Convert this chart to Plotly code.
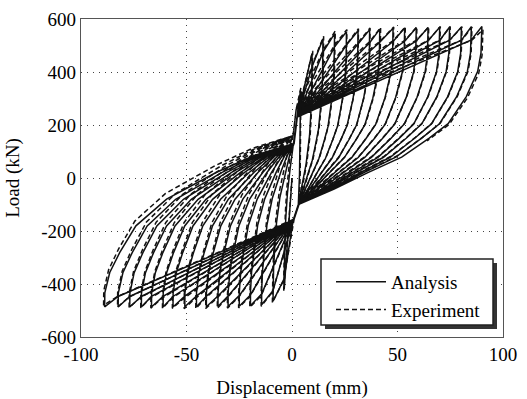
import plotly.graph_objects as go

# ---------------- data ----------------
# Analysis: peak displacement (mm) / load (kN) of each cycle
a_pos_disp = [4.0, 9.5, 14.7, 20.2, 25.8, 31.3, 36.8, 41.6, 47.9, 53.4, 58.9, 64.5, 70.0, 74.7, 80.3, 85.0, 90.0]
a_pos_load = [330, 470, 525, 545, 552, 556, 560, 562, 565, 566, 567, 568, 569, 570, 570, 571, 572]
a_neg_disp = [-3.7, -9.0, -14.4, -19.7, -25.0, -30.3, -35.1, -40.6, -45.3, -50.8, -56.4, -61.1, -66.6, -71.4, -76.9, -82.4, -88.8]
a_neg_load = [-420, -465, -478, -482, -484, -485, -485, -486, -486, -486, -487, -487, -487, -487, -487, -487, -486]

# Experiment: peak displacement (mm) / load (kN) of each cycle
e_pos_disp = [4.2, 9.8, 15.0, 20.5, 26.0, 31.5, 37.0, 42.0, 48.2, 53.7, 59.2, 64.8, 70.3, 75.0, 80.6, 85.3, 90.5]
e_pos_load = [340, 480, 535, 555, 560, 563, 566, 568, 570, 570, 571, 571, 572, 572, 571, 570, 560]
e_neg_disp = [-3.9, -9.3, -14.6, -20.0, -25.3, -30.6, -35.4, -40.9, -45.6, -51.1, -56.7, -61.4, -66.9, -71.7, -77.2, -82.7, -89.3]
e_neg_load = [-425, -470, -484, -488, -490, -491, -492, -492, -493, -493, -492, -492, -491, -490, -489, -487, -480]

# pinching points (where the unloading branches converge)
a_pinch_left = (1.0, 130.0)
a_pinch_right = (3.0, -100.0)
e_pinch_left = (0.5, 160.0)
e_pinch_right = (3.5, -95.0)
e_last_unload_end = (64.0, 140.0)

# unloading branch shape read from the outermost loops (fraction of the excursion)
pos_unload_fx = [1.0, 0.995, 0.977, 0.915, 0.816, 0.713, 0.563, 0.379, 0.195, 0.0]
pos_unload_fy = [1.0, 0.851, 0.748, 0.606, 0.454, 0.373, 0.266, 0.179, 0.087, 0.0]
neg_unload_fx = [1.0, 0.999, 0.973, 0.920, 0.835, 0.673, 0.409, 0.217, 0.0]
neg_unload_fy = [1.0, 0.914, 0.790, 0.667, 0.504, 0.341, 0.176, 0.076, 0.0]

x_ticks = [-100, -50, 0, 50, 100]
y_ticks = [-600, -400, -200, 0, 200, 400, 600]


def build_path(pd, pl, nd, nl, pin_l, pin_r, last_end=None):
    xs, ys = [0.0], [0.0]
    n = len(pd)
    for i in range(n):
        # negative loading
        if i > 0:
            xs += [pin_r[0] - 2.5, nd[i - 1]]
            ys += [pin_r[1] - 60, nl[i - 1] + 40]
        xs.append(nd[i]); ys.append(nl[i])
        # negative unloading to left pinch
        for fx, fy in zip(neg_unload_fx[1:], neg_unload_fy[1:]):
            xs.append(pin_l[0] + (nd[i] - pin_l[0]) * fx)
            ys.append(pin_l[1] + (nl[i] - pin_l[1]) * fy)
        # positive loading
        xs.append(pin_l[0] + 1.5); ys.append(pin_l[1] + 100)
        if i > 0:
            xs.append(pd[i - 1]); ys.append(pl[i - 1] - 50)
        xs.append(pd[i]); ys.append(pl[i])
        # positive unloading to right pinch
        for fx, fy in zip(pos_unload_fx[1:], pos_unload_fy[1:]):
            x = pin_r[0] + (pd[i] - pin_r[0]) * fx
            y = pin_r[1] + (pl[i] - pin_r[1]) * fy
            if last_end is not None and i == n - 1 and x < last_end[0]:
                xs.append(last_end[0]); ys.append(last_end[1])
                break
            xs.append(x); ys.append(y)
    return xs, ys


ax, ay = build_path(a_pos_disp, a_pos_load, a_neg_disp, a_neg_load, a_pinch_left, a_pinch_right)
ex, ey = build_path(e_pos_disp, e_pos_load, e_neg_disp, e_neg_load, e_pinch_left, e_pinch_right, e_last_unload_end)

FONT = 'Times New Roman, Liberation Serif, DejaVu Serif, serif'

fig = go.Figure()
fig.add_trace(go.Scatter(x=ax, y=ay, mode='lines', name='Analysis',
                         line=dict(color='#111111', width=1.5)))
fig.add_trace(go.Scatter(x=ex, y=ey, mode='lines', name='Experiment',
                         line=dict(color='#111111', width=1.5, dash='5px,3px')))

PX0, PW, PY1, PH = 81, 422, 337, 318

def px(v):
    return (v - PX0) / PW

def py(v):
    return (PY1 - v) / PH

# legend drop shadow and box
fig.add_shape(type='rect', xref='paper', yref='paper',
              x0=px(325), x1=px(497), y0=py(329), y1=py(263),
              fillcolor='#333333', line=dict(width=0), layer='above')
fig.add_shape(type='rect', xref='paper', yref='paper',
              x0=px(321), x1=px(493), y0=py(325), y1=py(259),
              fillcolor='white', line=dict(color='#222222', width=1.5), layer='above')

axis_common = dict(showgrid=True, gridcolor='#444444', gridwidth=1, griddash='1px,5px',
                   showline=True, mirror=True, linecolor='#555555', linewidth=1.2,
                   zeroline=False, ticks='', tickfont=dict(size=19, family=FONT),
                   automargin=False)

fig.update_layout(
    width=527, height=399,
    margin=dict(l=81, r=24, t=19, b=62),
    paper_bgcolor='white', plot_bgcolor='white',
    font=dict(family=FONT, size=19, color='black'),
    xaxis=dict(range=[-100, 100], tickvals=x_ticks, ticktext=[str(v) for v in x_ticks],
               title=dict(text='Displacement (mm)', font=dict(size=19, family=FONT), standoff=24),
               **axis_common),
    yaxis=dict(range=[-600, 600], tickvals=y_ticks, ticktext=[str(v) for v in y_ticks],
               title=dict(text='Load (kN)', font=dict(size=19, family=FONT), standoff=16),
               **axis_common),
    legend=dict(x=px(331), y=py(263), xanchor='left', yanchor='top',
                bgcolor='rgba(0,0,0,0)', borderwidth=0,
                font=dict(size=19, family=FONT), itemwidth=50, tracegroupgap=0),
    showlegend=True,
)

fig.write_html('out.html')
